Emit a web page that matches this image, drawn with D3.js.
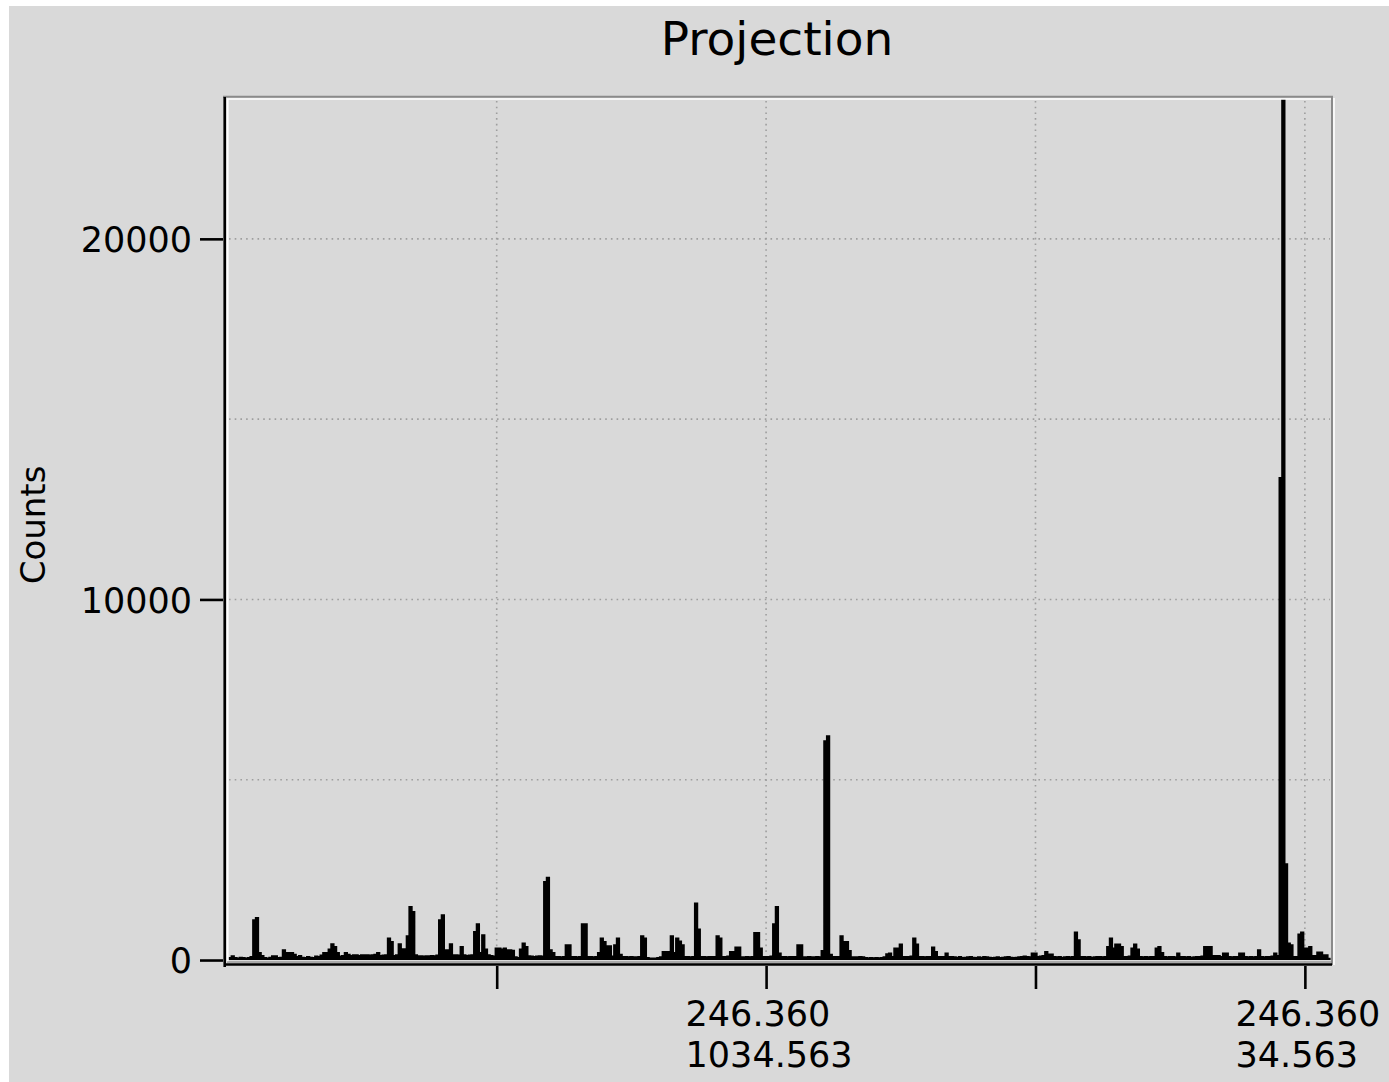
<!DOCTYPE html>
<html>
<head>
<meta charset="utf-8">
<script src="https://cdn.jsdelivr.net/npm/d3@7"></script>
<style>
  html, body { margin: 0; padding: 0; background: #ffffff; }
  svg { display: block; }
  text { font-family: "DejaVu Sans", "Liberation Sans", sans-serif; fill: #000; }
</style>
</head>
<body>
<svg id="chart" width="1389" height="1082"></svg>
<script>
// ---- data ---------------------------------------------------------------
const title = "Projection";
const yLabel = "Counts";

// Histogram of the projection: bin 0 starts at coordinate 2032 and each bin
// steps 5 units towards smaller coordinates.
const binStart = 2032;
const binWidth = 5;
const counts = [
  60, 110, 60, 50, 70, 60, 50, 60, 90, 1108,
  1172, 202, 120, 60, 50, 70, 110, 110, 60, 70,
  277, 200, 202, 202, 150, 90, 120, 70, 60, 90,
  70, 60, 100, 90, 130, 202, 202, 300, 443, 369,
  202, 100, 120, 202, 150, 120, 138, 138, 120, 138,
  140, 138, 130, 138, 150, 202, 120, 130, 140, 600,
  508, 120, 140, 443, 305, 305, 665, 1477, 1338, 140,
  110, 110, 100, 110, 110, 120, 110, 130, 1108, 1247,
  277, 277, 443, 138, 140, 130, 369, 138, 120, 130,
  140, 784, 997, 200, 693, 296, 138, 120, 100, 324,
  324, 300, 324, 277, 277, 260, 80, 60, 300, 462,
  369, 110, 100, 90, 100, 110, 100, 2169, 2285, 277,
  200, 91, 91, 80, 91, 415, 415, 91, 91, 80,
  91, 997, 997, 91, 91, 80, 91, 200, 600, 508,
  388, 388, 100, 415, 600, 150, 91, 91, 80, 91,
  83, 83, 90, 665, 600, 60, 47, 50, 47, 60,
  80, 230, 230, 230, 665, 200, 600, 520, 415, 91,
  91, 80, 91, 1570, 850, 91, 91, 80, 91, 91,
  91, 665, 600, 91, 91, 100, 230, 230, 351, 351,
  83, 83, 90, 83, 90, 757, 757, 323, 91, 91,
  91, 100, 997, 1477, 185, 91, 91, 80, 91, 91,
  91, 415, 415, 83, 83, 90, 83, 83, 90, 83,
  259, 6075, 6213, 150, 91, 91, 91, 665, 508, 508,
  259, 83, 80, 83, 90, 83, 60, 55, 60, 55,
  60, 55, 60, 80, 166, 185, 91, 324, 324, 434,
  91, 91, 91, 100, 600, 434, 91, 91, 80, 91,
  91, 351, 230, 91, 91, 91, 185, 91, 91, 80,
  70, 91, 60, 70, 80, 91, 70, 60, 80, 70,
  91, 80, 70, 60, 70, 80, 60, 70, 80, 91,
  70, 60, 70, 80, 91, 100, 91, 80, 185, 185,
  91, 100, 120, 230, 157, 157, 91, 80, 91, 70,
  80, 91, 80, 91, 767, 554, 91, 91, 80, 91,
  70, 80, 91, 91, 80, 91, 369, 600, 324, 434,
  434, 369, 91, 91, 100, 324, 434, 300, 91, 80,
  91, 80, 91, 91, 324, 369, 200, 91, 80, 91,
  91, 80, 185, 91, 91, 80, 91, 70, 80, 91,
  91, 100, 369, 369, 369, 120, 120, 120, 91, 185,
  185, 91, 80, 91, 91, 185, 185, 91, 80, 91,
  80, 91, 277, 91, 80, 91, 91, 100, 185, 120,
  13370, 26500, 2660, 462, 415, 91, 91, 711, 767, 324,
  324, 369, 120, 120, 213, 213, 138, 138, 40
];

const xDomain = [2037, -15.8];
const yDomain = [-138, 23906];
const xTickValues = [1534.563, 1034.563, 534.563, 34.563];
const xTickLabels = [null, ["246.360", "1034.563"], null, ["246.360", "34.563"]];
const yTickValues = [0, 10000, 20000];
const yGridValues = [5000, 10000, 15000, 20000];

// ---- layout -------------------------------------------------------------
const W = 1389, H = 1082;
const plot = { left: 226, right: 1332, top: 98, bottom: 965 };

const svg = d3.select("#chart");

const x = d3.scaleLinear().domain(xDomain).range([plot.left, plot.right]);
const y = d3.scaleLinear().domain(yDomain).range([plot.bottom, plot.top]);

// window background
svg.append("rect")
  .attr("x", 9).attr("y", 6)
  .attr("width", W - 9).attr("height", H - 6)
  .attr("fill", "#d9d9d9");

// dotted grid
const grid = svg.append("g")
  .attr("stroke", "#9e9e9e")
  .attr("stroke-width", 1.6)
  .attr("stroke-dasharray", "1.6,4.1");

grid.selectAll("line.h").data(yGridValues).join("line")
  .attr("class", "h")
  .attr("x1", plot.left + 3).attr("x2", plot.right - 2)
  .attr("y1", d => y(d)).attr("y2", d => y(d));

grid.selectAll("line.v").data(xTickValues).join("line")
  .attr("class", "v")
  .attr("x1", d => x(d)).attr("x2", d => x(d))
  .attr("y1", plot.top + 3).attr("y2", plot.bottom - 3);

// histogram: solid bins under a step outline
svg.append("clipPath").attr("id", "plot-clip")
  .append("rect")
  .attr("x", plot.left + 1).attr("y", plot.top + 1)
  .attr("width", plot.right - plot.left - 1)
  .attr("height", plot.bottom - plot.top - 2);

const steps = counts.map((v, i) => [binStart - i * binWidth, v]);
steps.push([binStart - counts.length * binWidth, counts[counts.length - 1]]);

const stepArea = d3.area()
  .x(d => x(d[0]))
  .y0(y(0))
  .y1(d => y(d[1]))
  .curve(d3.curveStepAfter);

const stepLine = d3.line()
  .x(d => x(d[0]))
  .y(d => y(d[1]))
  .curve(d3.curveStepAfter);

const hist = svg.append("g").attr("clip-path", "url(#plot-clip)");

hist.append("path")
  .datum(steps)
  .attr("fill", "#000")
  .attr("stroke", "none")
  .attr("d", stepArea);

hist.append("path")
  .datum(steps)
  .attr("fill", "none")
  .attr("stroke", "#000")
  .attr("stroke-width", 1.6)
  .attr("stroke-linejoin", "miter")
  .attr("d", stepLine);

// bevelled frame: grey top/right edges, black axes on the left/bottom
const frame = svg.append("g").attr("fill", "none");
frame.append("line")
  .attr("x1", plot.left - 3).attr("x2", plot.right + 1)
  .attr("y1", plot.top - 1.2).attr("y2", plot.top - 1.2)
  .attr("stroke", "#8a8a8a").attr("stroke-width", 2);
frame.append("line")
  .attr("x1", plot.left + 1).attr("x2", plot.right - 1)
  .attr("y1", plot.top + 1).attr("y2", plot.top + 1)
  .attr("stroke", "#ffffff").attr("stroke-width", 1.6);
frame.append("line")
  .attr("x1", plot.right).attr("x2", plot.right)
  .attr("y1", plot.top - 1).attr("y2", plot.bottom)
  .attr("stroke", "#8a8a8a").attr("stroke-width", 2);
frame.append("line")
  .attr("x1", plot.right + 2).attr("x2", plot.right + 2)
  .attr("y1", plot.top).attr("y2", plot.bottom)
  .attr("stroke", "#ffffff").attr("stroke-width", 1.6);
frame.append("line")
  .attr("x1", plot.left + 1.8).attr("x2", plot.left + 1.8)
  .attr("y1", plot.top + 1).attr("y2", plot.bottom - 3)
  .attr("stroke", "#ffffff").attr("stroke-width", 1.6);
frame.append("line")
  .attr("x1", plot.left - 1.3).attr("x2", plot.left - 1.3)
  .attr("y1", plot.top - 1).attr("y2", plot.bottom + 2)
  .attr("stroke", "#000").attr("stroke-width", 2.6);
frame.append("line")
  .attr("x1", plot.left - 1).attr("x2", plot.right)
  .attr("y1", plot.bottom - 0.5).attr("y2", plot.bottom - 0.5)
  .attr("stroke", "#000").attr("stroke-width", 2.6);
frame.append("line")
  .attr("x1", plot.left + 1).attr("x2", plot.right)
  .attr("y1", plot.bottom - 3).attr("y2", plot.bottom - 3)
  .attr("stroke", "#7a7a7a").attr("stroke-width", 1.2);

// y axis
const yAxis = d3.axisLeft(y)
  .tickValues(yTickValues)
  .tickSize(23)
  .tickPadding(8)
  .tickFormat(d3.format("d"));

const gy = svg.append("g")
  .attr("transform", `translate(${plot.left - 3},0)`)
  .call(yAxis);
gy.select(".domain").remove();
gy.selectAll(".tick line").attr("stroke", "#000").attr("stroke-width", 2.6);
gy.selectAll(".tick text")
  .attr("font-size", 35)
  .attr("font-family", "DejaVu Sans")
  .attr("fill", "#000")
  .attr("dy", "0.36em");

// x axis: ticks at every value, two-line labels on some of them
const xAxis = d3.axisBottom(x)
  .tickValues(xTickValues)
  .tickSize(23)
  .tickFormat("");

const gx = svg.append("g")
  .attr("transform", `translate(0,${plot.bottom + 1})`)
  .call(xAxis);
gx.select(".domain").remove();
gx.selectAll(".tick line").attr("stroke", "#000").attr("stroke-width", 2.6);

const labelled = xTickValues
  .map((v, i) => ({ v, lines: xTickLabels[i] }))
  .filter(d => d.lines);

const xl = svg.append("g").selectAll("text").data(labelled).join("text")
  .attr("font-size", 35)
  .attr("font-family", "DejaVu Sans");

xl.each(function (d) {
  const t = d3.select(this);
  d.lines.forEach((line, k) => {
    t.append("tspan")
      .attr("y", 1026 + k * 41)
      .text(line);
  });
});
// lines are left-aligned inside a block centred on the tick
xl.each(function (d) {
  const t = d3.select(this);
  let w = 0;
  t.selectAll("tspan").each(function () { w = Math.max(w, this.getComputedTextLength()); });
  t.selectAll("tspan").attr("x", x(d.v) - w / 2 + 3);
});

// titles
svg.append("text")
  .attr("x", 777).attr("y", 55)
  .attr("text-anchor", "middle")
  .attr("font-size", 47)
  .text(title);

svg.append("text")
  .attr("transform", "translate(45,525) rotate(-90)")
  .attr("text-anchor", "middle")
  .attr("font-size", 34)
  .text(yLabel);
</script>
</body>
</html>
